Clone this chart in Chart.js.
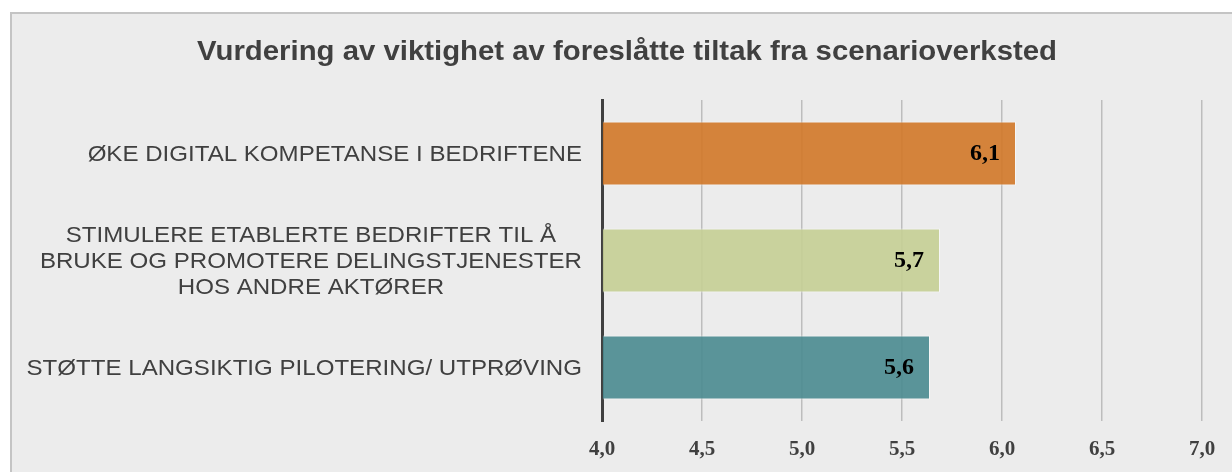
<!DOCTYPE html>
<html>
<head>
<meta charset="utf-8">
<script src="https://cdn.jsdelivr.net/npm/chart.js@4.4.1/dist/chart.umd.min.js"></script>
<style>
  html, body { margin: 0; padding: 0; background: #ffffff; overflow: hidden; width: 1232px; height: 472px; }
  #box { position: absolute; left: 10px; top: 12px; width: 1240px; height: 480px; background: #ececec; border: 2px solid #c4c4c4; box-sizing: border-box; }
  #wrap { position: absolute; left: 10px; top: 12px; width: 1234px; height: 460px; }
</style>
</head>
<body>
<div id="box"></div>
<div id="wrap"><canvas id="c" width="1234" height="460"></canvas></div>
<script>
const titleText = 'Vurdering av viktighet av foreslåtte tiltak fra scenarioverksted';
const categories = [
  ['ØKE DIGITAL KOMPETANSE I BEDRIFTENE'],
  ['STIMULERE ETABLERTE BEDRIFTER TIL Å', 'BRUKE OG PROMOTERE DELINGSTJENESTER', 'HOS ANDRE AKTØRER'],
  ['STØTTE LANGSIKTIG PILOTERING/ UTPRØVING']
];
const values = [6.07, 5.69, 5.64];
const barColors = ['rgba(210,120,40,0.9)', 'rgba(197,207,149,0.9)', 'rgba(74,139,144,0.9)'];
const axisMin = 4.0;
const axisMax = 7.0;
const axisStep = 0.5;

const STRETCH = 1.095;
const fmt = v => Number(v).toFixed(1).replace('.', ',');

function stretchedText(ctx, text, x, y) {
  ctx.save();
  ctx.translate(x, y);
  ctx.scale(STRETCH, 1);
  ctx.fillText(text, 0, 0);
  ctx.restore();
}

const titlePlugin = {
  id: 'stretchTitle',
  afterDraw(chart) {
    const ctx = chart.ctx;
    ctx.save();
    ctx.font = 'bold 26.8px "Liberation Sans", Arial, sans-serif';
    ctx.fillStyle = '#404040';
    ctx.textAlign = 'center';
    ctx.textBaseline = 'middle';
    stretchedText(ctx, titleText, chart.width / 2, 41);
    ctx.restore();
  }
};

const labelPlugin = {
  id: 'catLabels',
  afterDraw(chart) {
    const scale = chart.scales.y;
    const ctx = chart.ctx;
    ctx.save();
    ctx.font = '22px "Liberation Sans", Arial, sans-serif';
    ctx.fillStyle = '#404040';
    ctx.textAlign = 'center';
    ctx.textBaseline = 'middle';
    const lh = 26;
    const rightEdge = scale.right - 20;
    categories.forEach((lines, i) => {
      const y = scale.getPixelForTick(i) + 1;
      const w = Math.max(...lines.map(l => ctx.measureText(l).width)) * STRETCH;
      const cx = rightEdge - w / 2;
      lines.forEach((l, k) => {
        const ly = y + (k - (lines.length - 1) / 2) * lh;
        stretchedText(ctx, l, cx, ly);
      });
    });
    ctx.restore();
  }
};

const valuePlugin = {
  id: 'valueLabels',
  afterDatasetsDraw(chart) {
    const ctx = chart.ctx;
    const meta = chart.getDatasetMeta(0);
    ctx.save();
    ctx.font = 'bold 24px "Liberation Serif", "Times New Roman", serif';
    ctx.fillStyle = '#000000';
    ctx.textAlign = 'right';
    ctx.textBaseline = 'middle';
    meta.data.forEach((bar, i) => {
      ctx.fillText(fmt(values[i]), bar.x - 16, bar.y);
    });
    ctx.restore();
  }
};

new Chart(document.getElementById('c'), {
  type: 'bar',
  data: {
    labels: categories,
    datasets: [{
      data: values,
      base: axisMin,
      backgroundColor: barColors,
      borderColor: 'rgba(255,255,255,0.55)',
      borderWidth: 1,
      barPercentage: 0.6,
      categoryPercentage: 1.0
    }]
  },
  options: {
    indexAxis: 'y',
    responsive: false,
    animation: false,
    layout: { padding: { left: 0, right: 42, top: 88, bottom: 0 } },
    plugins: {
      legend: { display: false },
      tooltip: { enabled: false },
      title: { display: false }
    },
    scales: {
      x: {
        type: 'linear',
        min: axisMin,
        max: axisMax,
        ticks: {
          stepSize: axisStep,
          color: '#404040',
          padding: 16,
          font: { family: '"Liberation Serif", "Times New Roman", serif', size: 21, weight: 'bold', lineHeight: 1.2 },
          callback: v => fmt(v)
        },
        grid: { color: '#bdbdbd', lineWidth: 1.5, drawTicks: false },
        border: { display: false },
        afterFit(scale) { scale.height = 51; }
      },
      y: {
        ticks: { color: 'rgba(0,0,0,0)', font: { size: 22 } },
        grid: { display: false, drawTicks: false },
        border: { display: true, color: '#404040', width: 3 },
        afterFit(scale) { scale.width = 592; }
      }
    }
  },
  plugins: [titlePlugin, labelPlugin, valuePlugin]
});
</script>
</body>
</html>
